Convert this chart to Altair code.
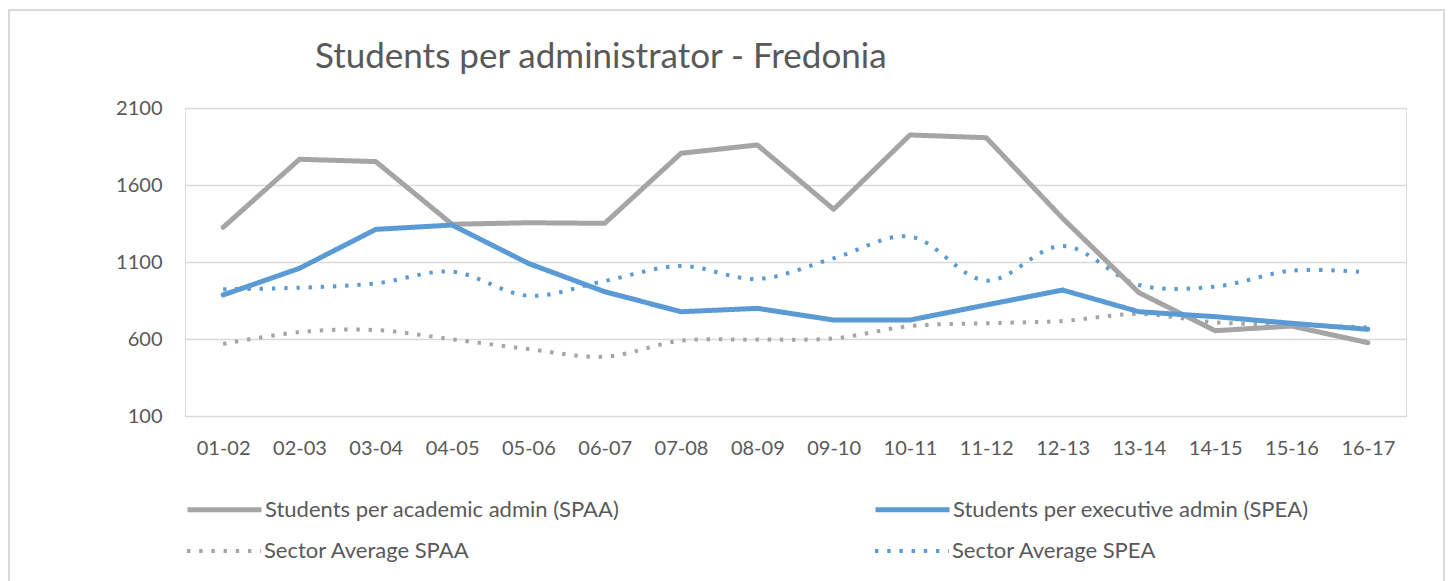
import altair as alt
import pandas as pd

categories = ["01-02", "02-03", "03-04", "04-05", "05-06", "06-07", "07-08", "08-09",
              "09-10", "10-11", "11-12", "12-13", "13-14", "14-15", "15-16", "16-17"]
spaa = [1325, 1767, 1752, 1345, 1355, 1351, 1806, 1860, 1442, 1925, 1907, 1384, 901, 654, 684, 576]
spea = [886, 1059, 1312, 1340, 1091, 907, 777, 799, 723, 723, 821, 918, 777, 745, 702, 663]
sector_spaa = [568, 645, 658, 598, 535, 485, 589, 596, 604, 684, 702, 717, 762, 708, 691, 676]
sector_spea = [923, 933, 961, 1037, 881, 977, 1074, 990, 1124, 1265, 979, 1204, 951, 940, 1044, 1033]

name_spaa = "Students per academic admin (SPAA)"
name_spea = "Students per executive admin (SPEA)"
name_sec_spaa = "Sector Average SPAA"
name_sec_spea = "Sector Average SPEA"
chart_title = "Students per administrator - Fredonia"
y_ticks = [100, 600, 1100, 1600, 2100]

solid_names = [name_spaa, name_spea]
dotted_names = [name_sec_spaa, name_sec_spea]
series_data = {name_spaa: spaa, name_spea: spea, name_sec_spaa: sector_spaa, name_sec_spea: sector_spea}

rows = []
for name in solid_names + dotted_names:
    for c, v in zip(categories, series_data[name]):
        rows.append({"year": c, "value": v, "series": name})
df = pd.DataFrame(rows)

FONT = "Lato"
TXT = "#595959"
GREY = "#A5A5A5"
BLUE = "#5B9BD5"

x_enc = alt.X("year:O", sort=categories, scale=alt.Scale(type="point", padding=0.5),
              axis=alt.Axis(title=None, labelAngle=0, domain=False, ticks=False,
                            labelFontSize=20, labelColor=TXT, labelFont=FONT, labelPadding=22))
y_enc = alt.Y("value:Q", scale=alt.Scale(domain=[100, 2100], nice=False, zero=False),
              axis=alt.Axis(title=None, values=y_ticks, format="d", domain=False, ticks=False,
                            gridColor="#D9D9D9", gridWidth=1.5,
                            labelFontSize=20, labelColor=TXT, labelFont=FONT, labelPadding=23))


def make_legend(y, col_pad):
    return alt.Legend(
        title=None, orient="none", legendX=0, legendY=y, direction="horizontal", columns=2,
        symbolType="stroke", symbolSize=5476, labelFontSize=22, labelFont=FONT,
        labelColor=TXT, labelOffset=1, columnPadding=col_pad, labelLimit=700,
    )


leg_solid = make_legend(362, 245)
leg_dotted = make_legend(404, 397)

base = alt.Chart(df)

solid = base.transform_filter(
    alt.FieldOneOfPredicate(field="series", oneOf=solid_names)
).mark_line(strokeCap="round", strokeJoin="round").encode(
    x=x_enc, y=y_enc,
    color=alt.Color("series:N", scale=alt.Scale(domain=solid_names, range=[GREY, BLUE]), legend=leg_solid),
    strokeDash=alt.StrokeDash("series:N", scale=alt.Scale(domain=solid_names, range=[[1, 0], [1, 0]]),
                              legend=leg_solid),
    strokeWidth=alt.StrokeWidth("series:N", scale=alt.Scale(domain=solid_names, range=[5, 5]),
                                legend=leg_solid),
)

dotted = base.transform_filter(
    alt.FieldOneOfPredicate(field="series", oneOf=dotted_names)
).mark_line(strokeCap="butt", interpolate="catmull-rom").encode(
    x=x_enc, y=y_enc,
    color=alt.Color("series:N", scale=alt.Scale(domain=dotted_names, range=[GREY, BLUE]), legend=leg_dotted),
    strokeDash=alt.StrokeDash("series:N", scale=alt.Scale(domain=dotted_names,
                                                          range=[[3.4, 8.8], [3.4, 8.8]]),
                              legend=leg_dotted),
    strokeWidth=alt.StrokeWidth("series:N", scale=alt.Scale(domain=dotted_names, range=[4, 4]),
                                legend=leg_dotted),
)

border = alt.Chart(alt.Data(values=[{}])).mark_rect(
    fill=None, stroke="#D9D9D9", strokeWidth=2
).encode(x=alt.value(-176), x2=alt.value(1259), y=alt.value(-98), y2=alt.value(600))

title = alt.Chart(alt.Data(values=[{"t": chart_title}])).mark_text(
    align="left", baseline="alphabetic", fontSize=35, font=FONT, color=TXT
).encode(x=alt.value(130), y=alt.value(-40), text="t:N")

chart = alt.layer(border, dotted, solid, title).resolve_scale(
    color="independent", strokeDash="independent", strokeWidth="independent"
).properties(
    width=1221, height=308,
    padding={"left": 177, "top": 100, "right": 39, "bottom": 165},
    autosize=alt.AutoSizeParams(type="none"),
).configure_view(stroke=None).configure(background="white")

chart.save("out.html", embed_options={"renderer": "svg", "actions": False})
